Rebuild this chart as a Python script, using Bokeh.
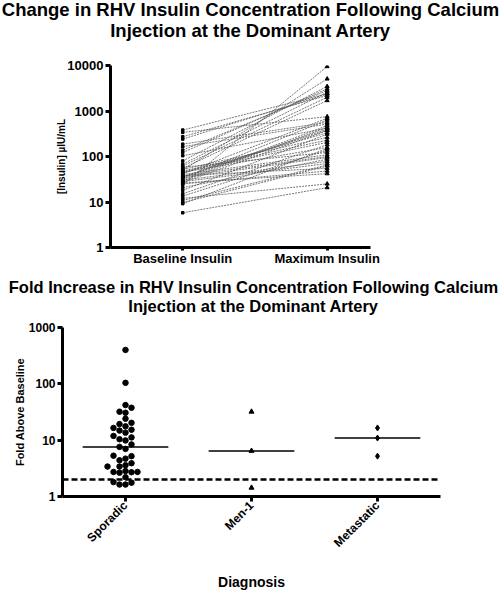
import math
import numpy as np
from bokeh.plotting import figure
from bokeh.layouts import column
from bokeh.core.properties import value
from bokeh.models import Range1d, FixedTicker, NumeralTickFormatter, Span
from bokeh.embed import file_html
from bokeh.resources import INLINE

# ---------------- data ----------------
top_categories = ["Baseline Insulin", "Maximum Insulin"]
baseline_insulin = [24, 50, 80, 122, 138, 68, 381, 241, 272, 62, 55, 339, 42, 33, 187,
                    164, 31, 29, 104, 36, 35, 27, 43, 18, 52, 48, 46, 15.2, 45, 9.2,
                    13.5, 58, 40, 37, 34, 20.7, 30, 28, 10.8, 9.7, 38, 25, 26, 12, 5.8]
maximum_insulin = [9500, 5080, 3470, 3060, 2820, 2590, 2400, 2370, 2200, 2000, 1700, 751, 690, 633, 563,
                   516, 476, 437, 420, 400, 380, 369, 330, 310, 263, 229, 204, 181, 158, 150,
                   138, 123, 109, 100, 95, 87, 78, 70, 65, 62, 55, 48, 42, 25, 20.7]
top_y_ticks = [1, 10, 100, 1000, 10000]
top_title = ["Change in RHV Insulin Concentration Following Calcium",
             "Injection at the Dominant Artery"]

diagnosis = ["Sporadic", "Men-1", "Metastatic"]
fold_sporadic = [400, 104, 42, 37.6, 32, 30.6, 24, 20.3, 19.3, 17.6, 16.5, 15.3, 14.8, 13.6,
                 11.9, 11.2, 10.4, 9.9, 8.4, 7.6, 7.0, 5.3, 5.2, 4.7, 4.4, 3.9, 3.6, 3.4, 3.4,
                 2.83, 2.73, 2.73, 2.7, 2.65, 2.2, 1.8, 1.76, 1.63, 1.63]
fold_men1 = [32, 6.45, 1.43]
fold_metastatic = [16.5, 10.9, 5.2]
threshold_fold = 2
bottom_y_ticks = [1, 10, 100, 1000]
bottom_title = ["Fold Increase in RHV Insulin Concentration Following Calcium",
                "Injection at the Dominant Artery"]

FONT = "Liberation Sans"
W = 500


def no_align(p):
    if "frame_align" in p.properties():
        p.frame_align = False


def title_fig(lines, size, height, center_x, line_y):
    t = figure(width=W, height=height, x_range=Range1d(0, W), y_range=Range1d(height, 0),
               x_axis_location=None, y_axis_location=None, min_border=0,
               output_backend="svg", toolbar_location=None)
    t.xgrid.visible = False
    t.ygrid.visible = False
    t.outline_line_color = None
    no_align(t)
    t.text(x=[center_x] * len(lines), y=line_y, text=lines,
           text_align="center", text_baseline="alphabetic",
           text_font=value(FONT), text_font_style=value("bold"),
           text_font_size=value(f"{size}px"), text_color="black")
    return t


def style_axes(p, tick_size):
    p.xgrid.visible = False
    p.ygrid.visible = False
    p.outline_line_color = None
    no_align(p)
    for ax in p.axis:
        ax.axis_line_width = 3
        ax.axis_line_color = "black"
        ax.major_tick_line_width = 3
        ax.major_tick_line_color = "black"
        ax.major_tick_out = 5
        ax.major_tick_in = 0
        ax.minor_tick_line_color = None
        ax.major_label_text_font = FONT
        ax.major_label_text_font_style = "bold"
        ax.major_label_text_font_size = f"{tick_size}px"
        ax.major_label_text_color = "black"
        ax.axis_label_text_font = FONT
        ax.axis_label_text_font_style = "bold"
        ax.axis_label_text_color = "black"
        ax.major_label_standoff = 2


# ---------------- top chart ----------------
t1 = title_fig(top_title, 18.5, 45, 250, [8.6, 29.6])

p1 = figure(width=W, height=223, y_axis_type="log",
            x_range=Range1d(-0.5, 1.3), y_range=Range1d(1, 10000),
            output_backend="svg", toolbar_location=None,
            min_border_left=110, min_border_right=130, min_border_top=20, min_border_bottom=21)
style_axes(p1, 13)

n = len(baseline_insulin)
xb = [0] * n
xm = [1] * n
p1.multi_line(xs=[[a, b] for a, b in zip(xb, xm)],
              ys=[[a, b] for a, b in zip(baseline_insulin, maximum_insulin)],
              line_color="#555555", line_width=0.8, line_dash="2 1")
p1.scatter(xb, baseline_insulin, marker="square", size=2.5, color="black")
p1.scatter(xm, maximum_insulin, marker="triangle", size=4, color="black")

p1.xaxis.ticker = FixedTicker(ticks=[0, 1])
p1.xaxis.major_label_overrides = {i: c for i, c in enumerate(top_categories)}
p1.xaxis.major_tick_out = 3
p1.xaxis.major_label_standoff = 0
p1.yaxis.ticker = FixedTicker(ticks=top_y_ticks)
p1.yaxis.formatter = NumeralTickFormatter(format="0")
p1.yaxis.axis_label = "[Insulin] µIU/mL"
p1.yaxis.axis_label_text_font_size = "10px"
p1.yaxis.axis_label_standoff = -3


# ---------------- bottom chart ----------------
t2 = title_fig(bottom_title, 16.5, 50, 253, [18.0, 37.0])

p2 = figure(width=W, height=274, y_axis_type="log",
            x_range=Range1d(-0.5, 2.5), y_range=Range1d(1, 1000),
            output_backend="svg", toolbar_location=None,
            min_border_left=62, min_border_right=60, min_border_top=9, min_border_bottom=86)
style_axes(p2, 12)

SLOT = 6.0 / 126.0      # horizontal spacing of swarm slots (data units)
GAP = 6.0 / 59.7        # minimal vertical gap in log decades


def swarm(values, center):
    order = np.argsort(values)
    placed = []
    xs = [center] * len(values)
    for i in order:
        lv = math.log10(values[i])
        for k in [0, -1, 1, -2, 2, -3, 3, -4, 4]:
            if all(not (s == k and abs(lv - l) < GAP) for s, l in placed):
                placed.append((k, lv))
                xs[i] = center + k * SLOT
                break
    return xs


groups = [fold_sporadic, fold_men1, fold_metastatic]
markers = ["circle", "triangle", "diamond"]
sizes = [5.5, 5, 6]
for i, (vals, mk, sz) in enumerate(zip(groups, markers, sizes)):
    p2.scatter(swarm(vals, i), vals, marker=mk, size=sz, color="black")
    med = float(np.median(vals))
    p2.segment(x0=[i - 0.34], x1=[i + 0.34], y0=[med], y1=[med], line_color="black", line_width=1.5)

p2.add_layout(Span(location=threshold_fold, dimension="width", line_color="black",
                   line_width=2.5, line_dash="6 3"))

p2.xaxis.ticker = FixedTicker(ticks=[0, 1, 2])
p2.xaxis.major_label_overrides = {i: c for i, c in enumerate(diagnosis)}
p2.xaxis.major_label_orientation = math.pi / 4
p2.xaxis.axis_label = "Diagnosis"
p2.xaxis.axis_label_text_font_size = "14px"
p2.xaxis.axis_label_standoff = 16
p2.yaxis.ticker = FixedTicker(ticks=bottom_y_ticks)
p2.yaxis.formatter = NumeralTickFormatter(format="0")
p2.yaxis.axis_label = "Fold Above Baseline"
p2.yaxis.axis_label_text_font_size = "11px"
p2.yaxis.axis_label_standoff = 0

layout = column(t1, p1, t2, p2, spacing=0)
open("out.html", "w").write(file_html(layout, INLINE))
